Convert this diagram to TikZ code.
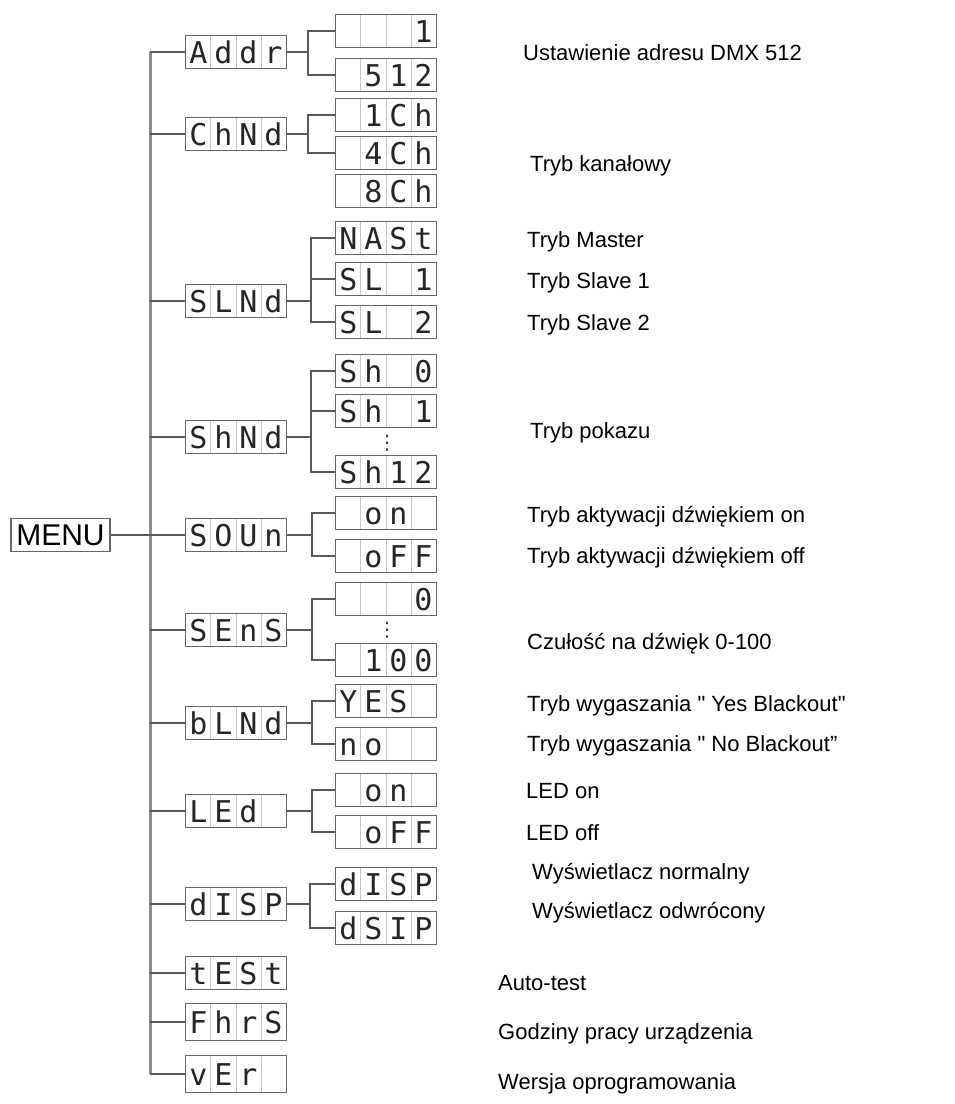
\documentclass[tikz,border=0pt]{standalone}
\usepackage{fontspec}
\setmainfont{Liberation Sans}
\newfontfamily\segfont{DejaVu Sans Mono}
\newfontfamily\dotfont{DejaVu Sans}
\usetikzlibrary{calc}

\newcommand\dsp[4]{\makebox[25pt]{#1}\makebox[25pt]{#2}\makebox[25pt]{#3}\makebox[25pt]{#4}}

\begin{document}
\begin{tikzpicture}[x=1pt,y=-1pt,
  segbox/.style={draw=black!60, line width=1.5pt, inner sep=0pt,
    minimum width=101pt, minimum height=33pt,
    text height=22pt, text depth=0pt, text=black!85,
    font=\segfont\fontsize{30}{30}\selectfont,
    path picture={\foreach \k in {1,2,3}
      \draw[black!22, line width=1pt]
        ($(path picture bounding box.north west)!\k/4!(path picture bounding box.north east)$) --
        ($(path picture bounding box.south west)!\k/4!(path picture bounding box.south east)$);}},
  segdots/.style={inner sep=0pt, text=black!75, font=\dotfont\fontsize{20}{20}\selectfont},
  trunkline/.style={black!45, line width=3pt},
  branch/.style={black!65, line width=2pt},
  lbl/.style={anchor=base west, inner sep=0pt, font=\fontsize{22}{26}\selectfont}]
  \useasboundingbox (0,0) rectangle (954,1104);

 % menu
  \node[draw=black!60, line width=1.5pt, inner sep=0pt, minimum width=99pt,
    minimum height=33pt, font=\fontsize{30}{30}\selectfont] (menu) at (60.5,535) {MENU};

 % first level
  \foreach \n/\y/\a/\b/\c/\d in {addr/52/A/d/d/r, chnd/134/C/h/N/d, slnd/301/S/L/N/d,
      shnd/437/S/h/N/d, soun/535/S/O/U/n, sens/630/S/E/n/S, blnd/723/b/L/N/d,
      led/811/L/E/d/~, disp/904/d/I/S/P, test/973/t/E/S/t}
    \node[segbox] (\n) at (236,\y) {\dsp{\a}{\b}{\c}{\d}};
  \node[segbox, minimum height=37pt] (fhrs) at (236,1022) {\dsp{F}{h}{r}{S}};
  \node[segbox, minimum height=37pt] (ver) at (236,1074) {\dsp{v}{E}{r}{~}};

 % second level
  \foreach \n/\y/\a/\b/\c/\d in {addra/31/~/~/~/1, addrb/75/~/5/1/2,
      chnda/115/~/1/C/h, chndb/153/~/4/C/h, chndc/191/~/8/C/h,
      slnda/238/N/A/S/t, slndb/279/S/L/~/1, slndc/322/S/L/~/2,
      shnda/371/S/h/~/0, shndb/411/S/h/~/1, shndc/472/S/h/1/2,
      souna/513/~/o/n/~, sounb/556/~/o/F/F, sensa/599/~/~/~/0, sensb/660/~/1/0/0,
      blnda/701/Y/E/S/~, blndb/744/n/o/~/~, leda/790/~/o/n/~, ledb/832/~/o/F/F,
      dispa/884/d/I/S/P, dispb/928/d/S/I/P}
    \node[segbox] (\n) at (386,\y) {\dsp{\a}{\b}{\c}{\d}};
  \node[segdots] (shdots) at (387,443) {⋮};
  \node[segdots] (sensdots) at (387,630) {⋮};

 % trunk
  \coordinate (trunk) at (150,0);
  \draw[trunkline] (addr.west -| trunk) -- (ver.west -| trunk);
  \draw[branch] (menu.east) -- (menu.east -| trunk);
  \foreach \n in {addr,chnd,slnd,shnd,soun,sens,blnd,led,disp,test,fhrs,ver}
    \draw[branch] (\n.west -| trunk) -- (\n.west);

 % forks
  \foreach \p/\s/\t/\fx in {addr/addra/addrb/308, chnd/chnda/chndb/308,
      slnd/slnda/slndc/311, shnd/shnda/shndc/311, soun/souna/sounb/312,
      sens/sensa/sensb/312, blnd/blnda/blndb/312, led/leda/ledb/312, disp/dispa/dispb/310} {
    \coordinate (\p-fk) at (\fx,0);
    \draw[branch] (\p.east) -- (\p.east -| \p-fk);
    \draw[branch] (\s.west) -| (\p-fk |- \t.west) -- (\t.west);
  }
  \draw[branch] (slndb.west -| slnd-fk) -- (slndb.west);
  \draw[branch] (shndb.west -| shnd-fk) -- (shndb.west);

 % descriptions
  \foreach \n/\x/\y/\t in {ldmx/523/60/{Ustawienie adresu DMX 512},
      lkan/530/171/{Tryb kanałowy}, lmas/527/247/{Tryb Master},
      lsla/527/288/{Tryb Slave 1}, lslb/527/330/{Tryb Slave 2},
      lpok/530/438/{Tryb pokazu}, lsnon/527/522/{Tryb aktywacji dźwiękiem on},
      lsnoff/527/563/{Tryb aktywacji dźwiękiem off}, lczu/527/649/{Czułość na dźwięk 0-100},
      lyes/527/711/{Tryb wygaszania \textquotedbl{} Yes Blackout\textquotedbl},
      lno/527/751/{Tryb wygaszania \textquotedbl{} No Blackout”},
      lledon/526/798/{LED on}, lledoff/526/840/{LED off},
      lnorm/532/879/{Wyświetlacz normalny}, lodw/532/918/{Wyświetlacz odwrócony},
      ltest/498/990/{Auto-test}, lgodz/498/1039/{Godziny pracy urządzenia},
      lwer/498/1089/{Wersja oprogramowania}}
    \node[lbl] (\n) at (\x,\y) {\t};
\end{tikzpicture}
\end{document}
